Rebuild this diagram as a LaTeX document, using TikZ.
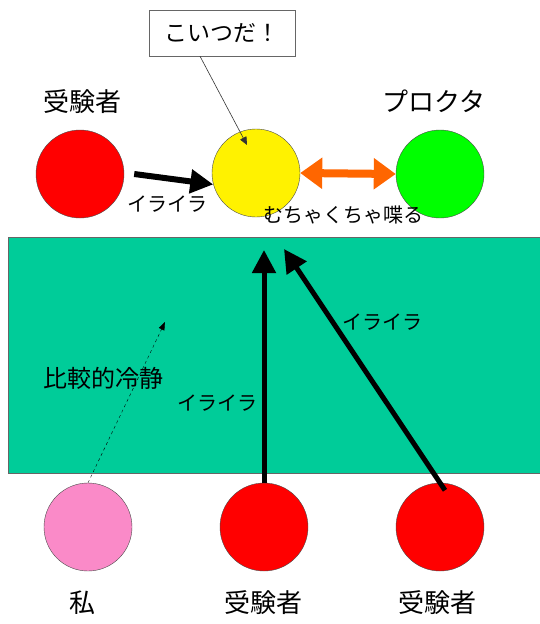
\documentclass[tikz,border=0pt]{standalone}
\usepackage{fontspec}
\setmainfont{Noto Sans CJK JP}
\usetikzlibrary{arrows.meta}
\definecolor{tealroom}{RGB}{0,204,153}
\definecolor{pinkme}{RGB}{250,138,200}
\definecolor{loudorange}{RGB}{255,102,0}
\newcommand{\fs}[1]{\fontsize{#1}{#1}\selectfont}
\begin{document}
\begin{tikzpicture}[x=1pt,y=-1pt,
  person/.style={circle,draw=black!70,thin,minimum size=88pt,inner sep=0pt},
  who/.style={font=\fs{26}},
  note/.style={font=\fs{20}},
  bigarrow/.style={line width=6pt,-{Triangle[length=23pt,width=23pt]}}]
\useasboundingbox (0,0) rectangle (540,624);
% the exam room
\fill[tealroom] (8,237) rectangle (540,473);
\draw[black!60,thin] (540,237)--(8,237)--(8,473)--(540,473);
% people at the top
\node[person,fill=red] (ra) at (80,174) {};
\node[person,fill=yellow] (yel) at (256,173) {};
\node[person,fill=green] (gr) at (440,174) {};
\node[who] (lra) at (82,102) {受験者};
\node[who] (lgr) at (434,101) {プロクタ};
% people at the bottom
\node[person,fill=pinkme] (pk) at (88,527) {};
\node[person,fill=red] (b2) at (264,527) {};
\node[person,fill=red] (b3) at (440,527) {};
\node[who] (lpk) at (82,603) {私};
\node[who] (lb2) at (263,603) {受験者};
\node[who] (lb3) at (437,603) {受験者};
% callout
\node[draw=black!60,fill=white,font=\fs{23},minimum width=146pt,minimum height=46pt] (call) at (222,33) {こいつだ！};
\coordinate (spot) at (247,145);
\draw[black!80,semithick,-{Triangle[length=8pt,width=7pt]}] ([xshift=-22pt]call.south) -- (spot);
% arrows
\draw[bigarrow] ([xshift=10pt]ra.east) -- (yel.195);
\node[note] (t1) at (167,204) {イライラ};
\draw[loudorange,line width=8pt,{Triangle[length=22pt,width=30pt]}-{Triangle[length=22pt,width=30pt]}] (yel.east) -- (gr.west);
\node[note] (t2) at (343,215) {むちゃくちゃ喋る};
\coordinate (tipA) at (264,250);
\coordinate (tipB) at (284,249);
\coordinate (tipC) at (165,322);
\draw[bigarrow,line width=5pt] (b2.north) -- (tipA);
\draw[bigarrow,line width=5pt,shorten <=-9pt] (b3.north) -- (tipB);
\draw[dashed,thin,-{Triangle[length=8pt,width=6pt]}] (pk.north) -- (tipC);
\node[note] (t3) at (217,403) {イライラ};
\node[note] (t4) at (382,322) {イライラ};
\node[font=\fs{24}] (t5) at (103,378) {比較的冷静};
\end{tikzpicture}
\end{document}
